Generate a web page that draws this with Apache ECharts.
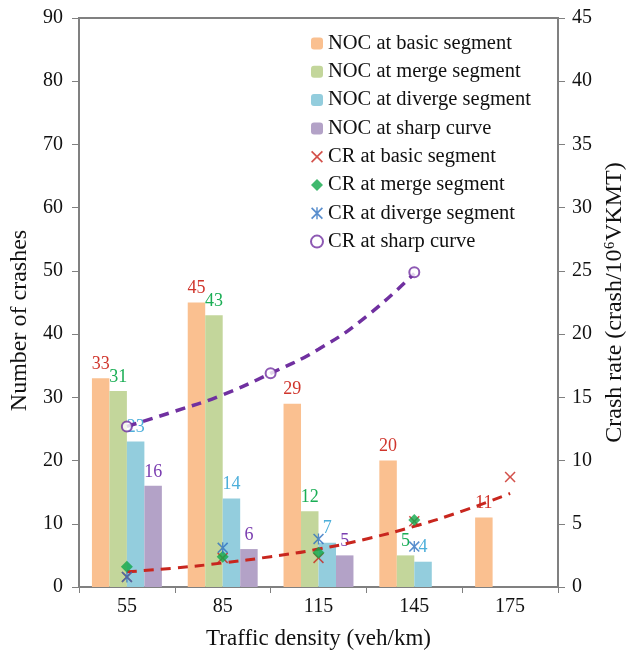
<!DOCTYPE html>
<html>
<head>
<meta charset="utf-8">
<script src="https://cdn.jsdelivr.net/npm/echarts@6/dist/echarts.min.js"></script>
<style>html,body{margin:0;padding:0;background:#fff;overflow:hidden}#c{width:627px;height:650px}</style>
</head>
<body>
<div id="c"></div>
<script>
const categories = ['55', '85', '115', '145', '175'];
const nocBasic = [33, 45, 29, 20, 11];
const nocMerge = [31, 43, 12, 5, null];
const nocDiverge = [23, 14, 7, 4, null];
const nocSharp = [16, 6, 5, null, null];

const crBasicX = [55, 85, 115, 145, 175];
const crBasic = [0.8, 2.3, 2.3, 5.2, 8.7];
const crMergeX = [55, 85, 115, 145];
const crMerge = [1.6, 2.4, 2.7, 5.3];
const crDivergeX = [55, 85, 115, 145];
const crDiverge = [0.8, 3.1, 3.8, 3.2];
const crSharpX = [55, 100, 145];
const crSharp = [12.7, 16.9, 24.9];

const trendBasicX = [55, 70, 85, 100, 115, 130, 145, 160, 175];
const trendBasic = [1.2, 1.5, 1.9, 2.4, 3.0, 3.8, 4.8, 6.0, 7.4];
const trendSharpX = [55, 70, 85, 100, 115, 130, 145];
const trendSharp = [12.7, 13.9, 15.2, 16.9, 18.8, 21.4, 24.8];

const leftTicks = [0, 90, 10];
const rightTicks = [0, 45, 5];

const FONT = '"Liberation Serif", "Times New Roman", serif';
const pairs = (xs, ys) => xs.map((x, i) => [x, ys[i]]);

const X_PATH = 'path://M0,1L1,0L5,4L9,0L10,1L6,5L10,9L9,10L5,6L1,10L0,9L4,5Z';
const AST_PATH = 'path://M0,1L1,0L5,4L9,0L10,1L6,5L10,9L9,10L5,6L1,10L0,9L4,5ZM4.4,0L5.6,0L5.6,10L4.4,10Z';

function barSeries(name, data, color, labelColor) {
  return {
    name, type: 'bar', data, xAxisIndex: 0, yAxisIndex: 0,
    barGap: '0%', barCategoryGap: '27%',
    itemStyle: { color },
    label: { show: true, position: 'top', distance: 5, color: labelColor, fontFamily: FONT, fontSize: 18 },
    z: 2
  };
}

const chart = echarts.init(document.getElementById('c'));
chart.setOption({
  animation: false,
  backgroundColor: '#fff',
  textStyle: { fontFamily: FONT },
  grid: {
    left: 79, right: 69, top: 18, bottom: 63, containLabel: false, outerBoundsMode: 'none',
    show: true, borderColor: '#808080', borderWidth: 2, backgroundColor: 'transparent'
  },
  legend: {
    orient: 'vertical', left: 305, top: 28,
    itemWidth: 12, itemHeight: 12, itemGap: 7.3,
    textStyle: { fontFamily: FONT, fontSize: 20.5, color: '#111', lineHeight: 20 },
    data: ['NOC at basic segment', 'NOC at merge segment', 'NOC at diverge segment', 'NOC at sharp curve',
      'CR at basic segment', 'CR at merge segment', 'CR at diverge segment', 'CR at sharp curve']
  },
  xAxis: [
    {
      type: 'category', data: categories, position: 'bottom',
      axisLine: { lineStyle: { color: '#808080', width: 2 } },
      axisTick: { show: true, length: 6, lineStyle: { color: '#808080' } },
      axisLabel: { fontFamily: FONT, fontSize: 20, color: '#111', margin: 10 },
      name: 'Traffic density (veh/km)', nameLocation: 'middle', nameGap: 40,
      nameTextStyle: { fontFamily: FONT, fontSize: 23, color: '#111' }
    },
    { type: 'value', min: 40, max: 190, show: false }
  ],
  yAxis: [
    {
      type: 'value', min: leftTicks[0], max: leftTicks[1], interval: leftTicks[2], position: 'left',
      axisLine: { show: true, lineStyle: { color: '#808080', width: 2 } },
      axisTick: { show: true, length: 7, lineStyle: { color: '#808080' } },
      splitLine: { show: false },
      axisLabel: { fontFamily: FONT, fontSize: 20, color: '#111', margin: 16 },
      name: 'Number of crashes', nameLocation: 'middle', nameGap: 47,
      nameTextStyle: { fontFamily: FONT, fontSize: 24, color: '#111', padding: [0, 36, 0, 0] }
    },
    {
      type: 'value', min: rightTicks[0], max: rightTicks[1], interval: rightTicks[2], position: 'right',
      axisLine: { show: true, lineStyle: { color: '#808080', width: 2 } },
      axisTick: { show: true, length: 7, lineStyle: { color: '#808080' } },
      splitLine: { show: false },
      axisLabel: { fontFamily: FONT, fontSize: 20, color: '#111', margin: 14 },
      name: 'Crash rate (crash/10⁶VKMT)', nameLocation: 'middle', nameGap: 45, nameRotate: 90,
      nameTextStyle: { fontFamily: FONT, fontSize: 24, color: '#111' }
    }
  ],
  series: [
    barSeries('NOC at basic segment', nocBasic, '#FAC090', '#D0352C'),
    barSeries('NOC at merge segment', nocMerge, '#C3D69B', '#1AAE55'),
    barSeries('NOC at diverge segment', nocDiverge, '#93CDDD', '#4DAFDA'),
    barSeries('NOC at sharp curve', nocSharp, '#B3A2C7', '#7A3DB0'),
    {
      name: 'trend basic', type: 'line', xAxisIndex: 1, yAxisIndex: 1,
      data: pairs(trendBasicX, trendBasic), smooth: true, symbol: 'none',
      lineStyle: { color: '#C8261E', width: 3, type: [10, 7] }, z: 3
    },
    {
      name: 'trend sharp', type: 'line', xAxisIndex: 1, yAxisIndex: 1,
      data: pairs(trendSharpX, trendSharp), smooth: true, symbol: 'none',
      lineStyle: { color: '#7030A0', width: 3.5, type: [10, 7] }, z: 3
    },
    {
      name: 'CR at basic segment', type: 'scatter', xAxisIndex: 1, yAxisIndex: 1,
      data: pairs(crBasicX, crBasic), symbol: X_PATH, symbolSize: 11,
      itemStyle: { color: '#C8261E' }, z: 4
    },
    {
      name: 'CR at merge segment', type: 'scatter', xAxisIndex: 1, yAxisIndex: 1,
      data: pairs(crMergeX, crMerge), symbol: 'diamond', symbolSize: 12,
      itemStyle: { color: '#10A84A' }, z: 4
    },
    {
      name: 'CR at diverge segment', type: 'scatter', xAxisIndex: 1, yAxisIndex: 1,
      data: pairs(crDivergeX, crDiverge), symbol: AST_PATH, symbolSize: 11,
      itemStyle: { color: '#2F72C0' }, z: 4
    },
    {
      name: 'CR at sharp curve', type: 'scatter', xAxisIndex: 1, yAxisIndex: 1,
      data: pairs(crSharpX, crSharp), symbol: 'emptyCircle', symbolSize: 10,
      itemStyle: { color: '#7030A0', borderColor: '#7030A0', borderWidth: 1.5 }, z: 4
    }
  ]
});
</script>
</body>
</html>
